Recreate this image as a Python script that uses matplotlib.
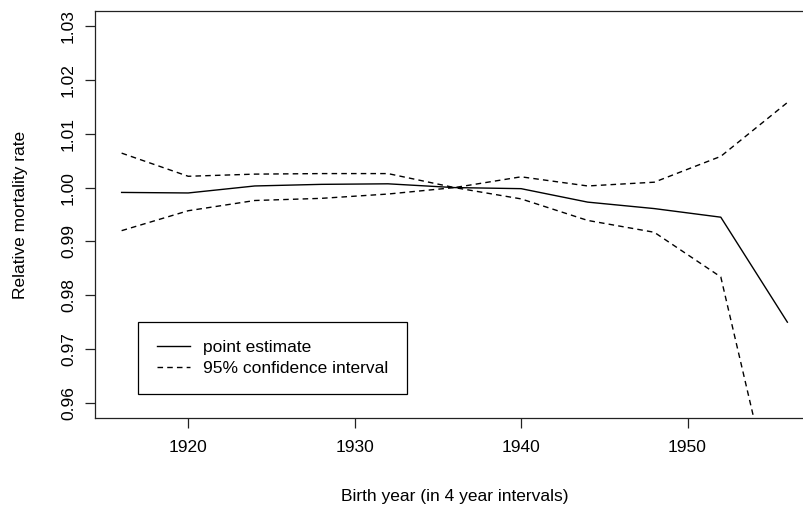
import matplotlib
matplotlib.use("Agg")
import matplotlib.pyplot as plt

plt.rcParams['font.family'] = ['Liberation Sans', 'DejaVu Sans']

# Birth cohorts (4 year intervals) and estimates
years = [1916, 1920, 1924, 1928, 1932, 1936, 1940, 1944, 1948, 1952, 1956]
point_est = [0.9991, 0.9990, 1.0003, 1.0006, 1.0007, 1.0000, 0.9998, 0.9973, 0.9961, 0.9945, 0.9750]
ci_upper = [1.0064, 1.0021, 1.0025, 1.0026, 1.0026, 1.0000, 1.0020, 1.0003, 1.0010, 1.0058, 1.0158]
ci_lower = [0.9920, 0.9957, 0.9976, 0.9980, 0.9988, 1.0000, 0.9979, 0.9939, 0.9917, 0.9834, 0.9305]

x_ticks = [1920, 1930, 1940, 1950]
y_ticks = [0.96, 0.97, 0.98, 0.99, 1.00, 1.01, 1.02, 1.03]

fig = plt.figure(figsize=(8.04, 5.08), dpi=100)
# the right edge of the plot box falls outside the picture (cropped)
ax = fig.add_axes([95 / 804, 90 / 508, 719 / 804, 407 / 508])

ax.plot(years, point_est, color='black', lw=1.0, label='point estimate')
ax.plot(years, ci_upper, color='black', lw=1.0, dashes=(4, 3),
        label='95% confidence interval')
ax.plot(years, ci_lower, color='black', lw=1.0, dashes=(4, 3))

# R style 4% padding on both axes
ax.set_xlim(1914.4, 1957.6)
ax.set_ylim(0.9572, 1.0328)

ax.set_xticks(x_ticks)
ax.set_xticklabels([str(t) for t in x_ticks])
ax.set_yticks(y_ticks)
ax.set_yticklabels(['%.2f' % t for t in y_ticks], rotation=90, va='center')

for sp in ax.spines.values():
    sp.set_color('#222222')
    sp.set_linewidth(0.9)

ax.tick_params(axis='both', direction='out', length=7.2, width=0.9,
               color='#222222', labelsize=12.5)
ax.tick_params(axis='x', pad=8.4)
ax.tick_params(axis='y', pad=6.5)

ax.set_xlabel('Birth year (in 4 year intervals)', fontsize=12.5, va='center')
ax.xaxis.set_label_coords(0.5, (418 - 497) / 407)
ax.set_ylabel('Relative mortality rate', fontsize=12.5, va='center')
ax.yaxis.set_label_coords((21 - 95) / 719, 0.5)

leg = ax.legend(loc='upper left',
                bbox_to_anchor=((138.3 - 95) / 719, (418 - 321.7) / 407),
                borderaxespad=0, fontsize=12.5, fancybox=False,
                edgecolor='black', framealpha=1, borderpad=1.05,
                labelspacing=0.33, handlelength=1.95, handletextpad=0.75)
leg.get_frame().set_linewidth(0.9)

fig.savefig('out.png', dpi=100)
